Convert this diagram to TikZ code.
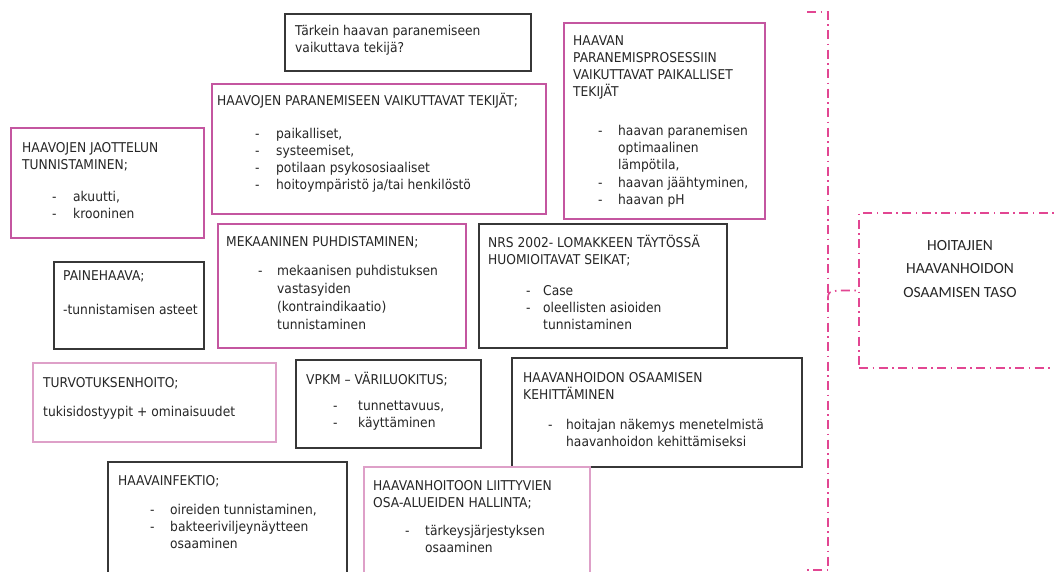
\documentclass[tikz,border=0pt]{standalone}
\usepackage{fontspec}
\setmainfont{DejaVu Sans}[FakeStretch=0.91]
\newfontfamily\calib{Carlito}
\definecolor{pk}{RGB}{196,86,160}
\definecolor{lpk}{RGB}{222,160,200}
\definecolor{hpk}{RGB}{226,70,146}
\definecolor{bk}{RGB}{55,55,55}
\newcommand\dashitem[2]{\leavevmode\makebox[#2pt][l]{\hspace*{#1pt}-}}
\newcommand\cont[1]{\leavevmode\hspace*{#1pt}}
\newcommand\fbx[6]{\node[#1, minimum width={#4pt-#2pt}, minimum height={#5pt-#3pt}] (#6) at ({(#2+#4)/2},{(#3+#5)/2}) {};}
\newcommand\txt[4]{\node[tx] (#1) at (#2,#3) {\parbox[t]{340pt}{\raggedright #4}};}
\tikzset{
  frame/.style={rectangle, inner sep=0pt, outer sep=0pt},
  blk/.style={frame, draw=bk, line width=1.2pt},
  pnk/.style={frame, draw=pk, line width=2.2pt},
  lpnk/.style={frame, draw=lpk, line width=1.6pt},
  dd/.style={draw=hpk, line width=1.7pt, dash pattern=on 9pt off 4.5pt on 1.5pt off 4.5pt},
  tx/.style={anchor=base west, inner sep=0pt, font=\fontsize{13.5}{17}\selectfont, text=black!85},
}
\begin{document}
\begin{tikzpicture}[x=1pt, y=-1pt]
\useasboundingbox (0,0) rectangle (1054,571);
\fill[white] (0,0) rectangle (1054,571);

% frames
\fbx{blk}{285}{14}{531}{71}{b1}
\fbx{pnk}{212}{84}{546}{214}{b2}
\fbx{pnk}{11}{128}{204}{238}{b3}
\fbx{pnk}{564}{23}{765}{219}{b4}
\fbx{pnk}{218}{224}{466}{348}{b5}
\fbx{blk}{479}{224}{727}{348}{b6}
\fbx{blk}{54}{262}{204}{349}{b7}
\fbx{lpnk}{33}{363}{276}{442}{b8}
\fbx{blk}{296}{360}{481}{448}{b9}
\fbx{blk}{512}{358}{802}{467}{b10}
\fbx{blk}{108}{462}{347}{585}{b11}
\fbx{lpnk}{364}{467}{590}{585}{b12}
\node[frame, dd, minimum width=202pt, minimum height=155pt] (rb) at (960,290.5) {};

% texts
\txt{t1}{295}{35}{Tärkein haavan paranemiseen\\vaikuttava tekijä?}
\txt{t2}{217}{105}{HAAVOJEN PARANEMISEEN VAIKUTTAVAT TEKIJÄT;\\[16pt]
\dashitem{38}{59}paikalliset,\\
\dashitem{38}{59}systeemiset,\\
\dashitem{38}{59}potilaan psykososiaaliset\\
\dashitem{38}{59}hoitoympäristö ja/tai henkilöstö}
\txt{t3}{22}{152}{HAAVOJEN JAOTTELUN\\TUNNISTAMINEN;\\[15pt]
\dashitem{30}{51}akuutti,\\
\dashitem{30}{51}krooninen}
\txt{t4}{573}{45}{\baselineskip=17.3pt HAAVAN\\PARANEMISPROSESSIIN\\VAIKUTTAVAT PAIKALLISET\\TEKIJÄT\\[21pt]
\dashitem{25}{45}haavan paranemisen\\
\cont{45}optimaalinen\\
\cont{45}lämpötila,\\
\dashitem{25}{45}haavan jäähtyminen,\\
\dashitem{25}{45}haavan pH}
\txt{t5}{226}{246}{\baselineskip=17.8pt MEKAANINEN PUHDISTAMINEN;\\[12pt]
\dashitem{32}{51}mekaanisen puhdistuksen\\
\cont{51}vastasyiden\\
\cont{51}(kontraindikaatio)\\
\cont{51}tunnistaminen}
\txt{t6}{488}{247}{NRS 2002- LOMAKKEEN TÄYTÖSSÄ\\HUOMIOITAVAT SEIKAT;\\[14pt]
\dashitem{38}{55}Case\\
\dashitem{38}{55}oleellisten asioiden\\
\cont{55}tunnistaminen}
\txt{t7}{63}{280}{PAINEHAAVA;\\[17pt]-tunnistamisen asteet}
\txt{t8}{43}{387}{TURVOTUKSENHOITO;\\[12pt]tukisidostyypit + ominaisuudet}
\txt{t9}{306}{384}{VPKM – VÄRILUOKITUS;\\[9pt]
\dashitem{27}{52}tunnettavuus,\\
\dashitem{27}{52}käyttäminen}
\txt{t10}{523}{382}{HAAVANHOIDON OSAAMISEN\\KEHITTÄMINEN\\[13pt]
\dashitem{25}{43}hoitajan näkemys menetelmistä\\
\cont{43}haavanhoidon kehittämiseksi}
\txt{t11}{118}{485}{HAAVAINFEKTIO;\\[12pt]
\dashitem{32}{52}oireiden tunnistaminen,\\
\dashitem{32}{52}bakteeriviljeynäytteen\\
\cont{52}osaaminen}
\txt{t12}{373}{490}{HAAVANHOITOON LIITTYVIEN\\OSA-ALUEIDEN HALLINTA;\\[11pt]
\dashitem{32}{52}tärkeysjärjestyksen\\
\cont{52}osaaminen}
\node[inner sep=0pt, align=center, font=\calib\fontsize{15.5}{23.5}\selectfont, text=black!85] (rt) at (960,269) {HOITAJIEN\\HAAVANHOIDON\\OSAAMISEN TASO};

% bracket
\coordinate (k1) at (807,12);
\coordinate (k2) at (828,12);
\coordinate (k3) at (828,570);
\coordinate (k4) at (807,570);
\coordinate (k5) at (828,300);
\draw[dd] (k1) -- (k2) -- (k3) -- (k4);
\draw[dd] (k5) .. controls (828,292) .. (838,290.5) -- (rb.west);
\end{tikzpicture}
\end{document}
